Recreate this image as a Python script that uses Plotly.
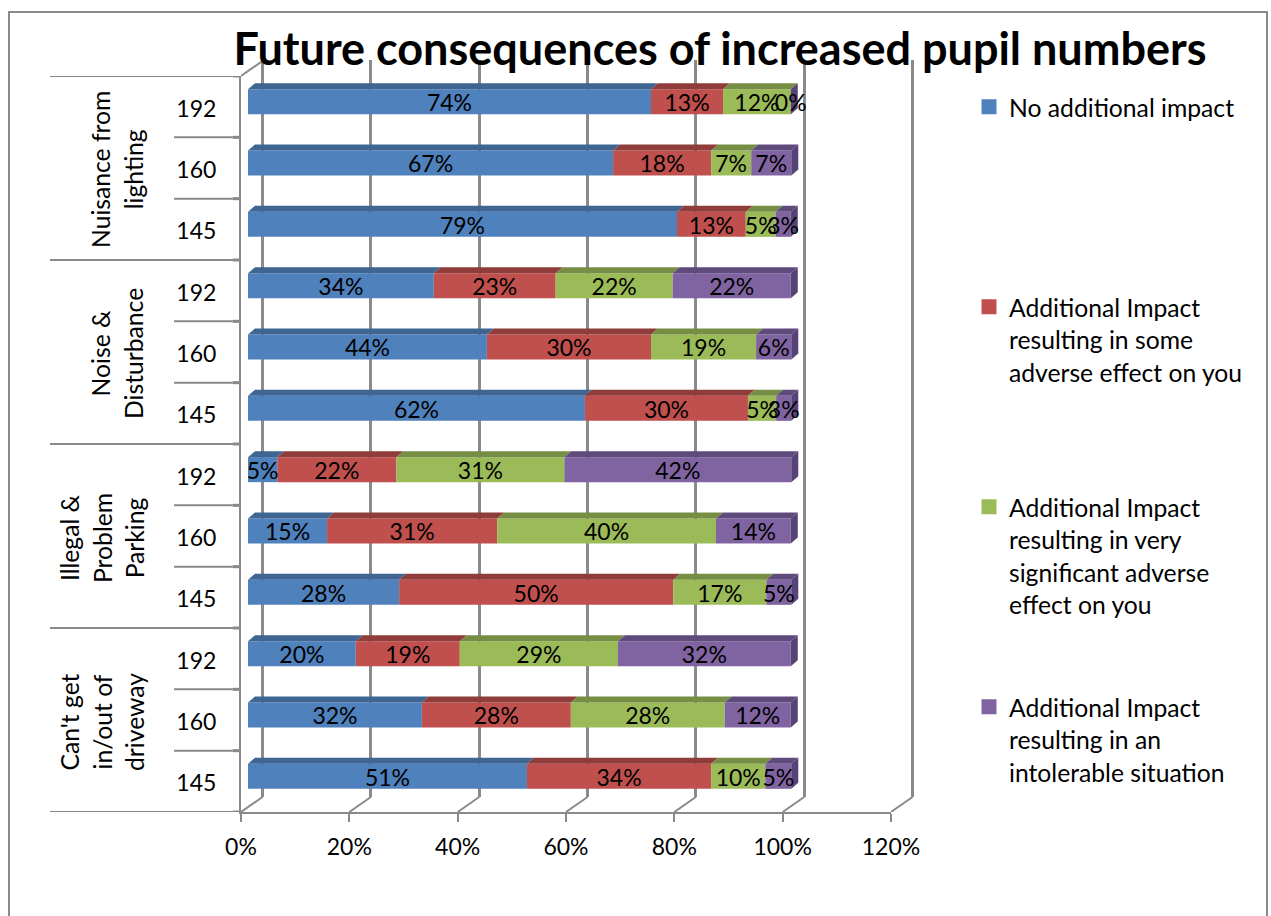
import plotly.graph_objects as go

# ---- data (bottom row first) ----
groups = ["Can't get<br>in/out of<br>driveway", "Illegal &<br>Problem<br>Parking",
          "Noise &<br>Disturbance", "Nuisance from<br>lighting"]
rows = ["145", "160", "192"] * 4
no_impact = [51.5, 32.1, 19.9, 27.9, 14.6, 5.4, 62.2, 44.1, 34.3, 79.2, 67.4, 74.4]
some_adverse = [34.0, 27.5, 19.2, 50.6, 31.4, 22.0, 30.1, 30.3, 22.5, 12.7, 18.1, 13.3]
very_adverse = [10.0, 28.4, 29.2, 17.2, 40.4, 31.0, 5.2, 19.4, 21.6, 5.5, 7.4, 12.5]
intolerable = [4.8, 12.2, 31.9, 4.6, 13.8, 41.9, 2.8, 6.5, 21.8, 2.8, 7.4, 0.0]
no_impact_labels = [51, 32, 20, 28, 15, 5, 62, 44, 34, 79, 67, 74]
some_adverse_labels = [34, 28, 19, 50, 31, 22, 30, 30, 23, 13, 18, 13]
very_adverse_labels = [10, 28, 29, 17, 40, 31, 5, 19, 22, 5, 7, 12]
intolerable_labels = [5, 12, 32, 5, 14, 42, 3, 6, 22, 3, 7, 0]
x_ticks = [0, 20, 40, 60, 80, 100, 120]
legend_names = [
    ["No additional impact"],
    ["Additional Impact", "resulting in some", "adverse effect on you"],
    ["Additional Impact", "resulting in very", "significant adverse", "effect on you"],
    ["Additional Impact", "resulting in an", "intolerable situation"],
]
legend_y_px = [107, 307, 507, 707]
colors = ["#4F81BD", "#C0504D", "#9BBB59", "#8064A2"]
top_colors = ["#3F6592", "#8F3C3A", "#758E44", "#5F4A7C"]
side_color = "#574377"
title = "Future consequences of increased pupil numbers"

W, H = 1271, 916
FONT = "Lato"
GRAY = "#8A8A8A"
FS = 24.7      # words
NUM_FS = 23    # numbers
LINE_FS = 25   # drives line spacing of multi-line text

def xd(a, b): return [a / W, b / W]
def yd(top, bottom): return [(H - bottom) / H, (H - top) / H]

series = [no_impact, some_adverse, very_adverse, intolerable]
labels = [no_impact_labels, some_adverse_labels, very_adverse_labels, intolerable_labels]
idx = list(range(len(rows)))

PX_PER_X = 650 / 120
PX_PER_Y = 736 / 12
DX, DY = 7 / PX_PER_X, 6 / PX_PER_Y       # bar depth
BACK_X, BACK_Y = 21.5 / PX_PER_X, 15 / PX_PER_Y  # wall depth
HALF = 12.5 / PX_PER_Y
LABEL_DROP = 3.5 / PX_PER_Y

fig = go.Figure()

# back wall gridlines live on x/y; this keeps that subplot alive
fig.add_trace(go.Scatter(x=x_ticks, y=[0] * len(x_ticks), xaxis="x", yaxis="y", mode="none",
                         showlegend=False, hoverinfo="skip"))

# slanted floor/side lines joining front plane and back wall
sx, sy = [], []
for v in x_ticks:
    sx += [v, v + BACK_X, None]
    sy += [-0.5, -0.5 + BACK_Y, None]
sx += [0, BACK_X]
sy += [11.5, 11.5 + BACK_Y]
fig.add_trace(go.Scatter(x=sx, y=sy, xaxis="x4", yaxis="y4", mode="lines",
                         line=dict(color=GRAY, width=2), showlegend=False, hoverinfo="skip"))

# stacked bars with depth faces
base = [0.0] * len(rows)
for k, vals in enumerate(series):
    fig.add_trace(go.Bar(x=vals, y=idx, base=base, orientation="h", width=2 * HALF, xaxis="x3", yaxis="y3",
                         marker=dict(color=colors[k], line=dict(width=0)), showlegend=False,
                         name=" ".join(legend_names[k])))
    px_, py_ = [], []
    for i, v in enumerate(vals):
        a, b = base[i], base[i] + v
        yt = i + HALF
        px_ += [a, a + DX, b + DX, b, a, None]
        py_ += [yt, yt + DY, yt + DY, yt, yt, None]
    fig.add_trace(go.Scatter(x=px_, y=py_, xaxis="x3", yaxis="y3", mode="lines", fill="toself",
                             fillcolor=top_colors[k], line=dict(width=0), cliponaxis=False,
                             showlegend=False, hoverinfo="skip"))
    base = [b + v for b, v in zip(base, vals)]

# right-hand side face of each bar
px_, py_ = [], []
for i, e in enumerate(base):
    yb, yt = i - HALF, i + HALF
    px_ += [e, e + DX, e + DX, e, e, None]
    py_ += [yb, yb + DY, yt + DY, yt, yb, None]
fig.add_trace(go.Scatter(x=px_, y=py_, xaxis="x3", yaxis="y3", mode="lines", fill="toself",
                         fillcolor=side_color, line=dict(width=0), cliponaxis=False,
                         showlegend=False, hoverinfo="skip"))

# data labels centred on each segment
base = [0.0] * len(rows)
for k, vals in enumerate(series):
    fig.add_trace(go.Scatter(x=[b + v / 2 for b, v in zip(base, vals)], y=[i - LABEL_DROP for i in idx],
                             xaxis="x3", yaxis="y3",
                             mode="text", text=[f"{t}%" for t in labels[k]], cliponaxis=False,
                             textposition="middle center", textfont=dict(family=FONT, size=NUM_FS, color="black"),
                             showlegend=False, hoverinfo="skip"))
    base = [b + v for b, v in zip(base, vals)]

# legend keys: one legend per series, so the entries can sit 200 px apart
legends = {}
for k, lines in enumerate(legend_names):
    pad = "".join("&nbsp;<br>" for _ in lines[1:])
    nm = pad + "<br>".join(f'<span style="font-size:{FS}px">{t}</span>' for t in lines)
    key = "legend" if k == 0 else f"legend{k + 1}"
    fig.add_trace(go.Scatter(x=[None], y=[None], xaxis="x3", yaxis="y3", mode="markers", name=nm,
                             marker=dict(symbol="square", size=15, color=colors[k]),
                             showlegend=True, legend=key))
    legends[key] = dict(x=969 / W, xanchor="left", y=1 - legend_y_px[k] / H, yanchor="middle",
                        bgcolor="rgba(0,0,0,0)", borderwidth=0, itemwidth=30,
                        font=dict(family=FONT, size=LINE_FS, color="black"), itemclick=False, itemdoubleclick=False)

# category separators, chart frame
shapes = [dict(type="rect", xref="paper", yref="paper", x0=9 / W, x1=1267 / W, y0=-0.05, y1=1 - 12 / H,
               line=dict(color=GRAY, width=2), layer="below")]
for i in range(13):
    left = 50 if i % 3 == 0 else 174
    shapes.append(dict(type="line", xref="paper", yref="y2", x0=left / W, x1=241 / W, y0=i - 0.5, y1=i - 0.5,
                       line=dict(color=GRAY, width=2)))
    shapes.append(dict(type="line", xref="paper", yref="y2", x0=233 / W, x1=241 / W, y0=i - 0.5, y1=i - 0.5,
                       line=dict(color=GRAY, width=3)))

annotations = []
for g, name in enumerate(groups):
    txt = "<br>".join(f'<span style="font-size:{FS}px">{t}</span>' for t in name.split("<br>"))
    n = name.count("<br>") + 1
    annotations.append(dict(text=txt, xref="paper", yref="y2", x=(102 if n == 3 else 117) / W,
                            y=3 * g + 1 - 2 / PX_PER_Y,
                            textangle=-90, showarrow=False, xanchor="center", yanchor="middle",
                            font=dict(family=FONT, size=LINE_FS, color="black")))

fig.update_layout(
    width=W, height=H, margin=dict(l=0, r=0, t=0, b=0, autoexpand=False), paper_bgcolor="white",
    plot_bgcolor="rgba(0,0,0,0)", barmode="overlay", autosize=False, hovermode=False,
    title=dict(text=title, x=720 / W, xanchor="center", xref="paper", y=1 - 49 / H, yanchor="middle", yref="paper",
               font=dict(family=FONT, size=45, color="black", weight=700)),
    # back wall: range padded by 1 on each side so the first and last gridlines are drawn
    xaxis=dict(domain=xd(262.5 - PX_PER_X, 912.5 + PX_PER_X), range=[-1, 121], tickvals=x_ticks, showgrid=True,
               gridcolor=GRAY, gridwidth=2.5, showticklabels=False, ticks="", zeroline=False, showline=False,
               anchor="y"),
    yaxis=dict(domain=yd(60, 797), range=[-0.5, 11.5], showgrid=False, zeroline=False, showticklabels=False,
               ticks="", showline=False, anchor="x"),
    # front plane: the visible axes
    xaxis2=dict(domain=xd(241, 891), range=[0, 120], tickvals=x_ticks, ticktext=[f"{v}%" for v in x_ticks],
                showgrid=False, zeroline=False, showline=True, linecolor=GRAY, linewidth=2, ticks="outside", ticklen=8,
                tickcolor=GRAY, tickwidth=2, ticklabelstandoff=5, tickfont=dict(family=FONT, size=NUM_FS, color="black"),
                anchor="y2"),
    yaxis2=dict(domain=yd(76, 812), range=[-0.5, 11.5], tickvals=idx, ticktext=rows, showgrid=False, zeroline=False,
                showline=True, linecolor=GRAY, linewidth=2, ticks="", ticklabelstandoff=18, ticklabelshift=2,
                tickfont=dict(family=FONT, size=NUM_FS, color="black"), anchor="x2"),
    # bars sit slightly in front of the wall
    xaxis3=dict(domain=xd(248, 898), range=[0, 120], visible=False, anchor="y3"),
    yaxis3=dict(domain=yd(71, 807), range=[-0.5, 11.5], visible=False, anchor="x3"),
    # roomy copy of the front plane for the slanted joins
    xaxis4=dict(domain=xd(241, 941), range=[0, 700 / PX_PER_X], visible=False, anchor="y4"),
    yaxis4=dict(domain=yd(40, 812), range=[-0.5, -0.5 + 772 / PX_PER_Y], visible=False, anchor="x4"),
    shapes=shapes, annotations=annotations, **legends,
)

fig.write_html("out.html", config={"displayModeBar": False},
               post_script="document.body.style.margin='0';document.body.style.overflow='hidden';")
